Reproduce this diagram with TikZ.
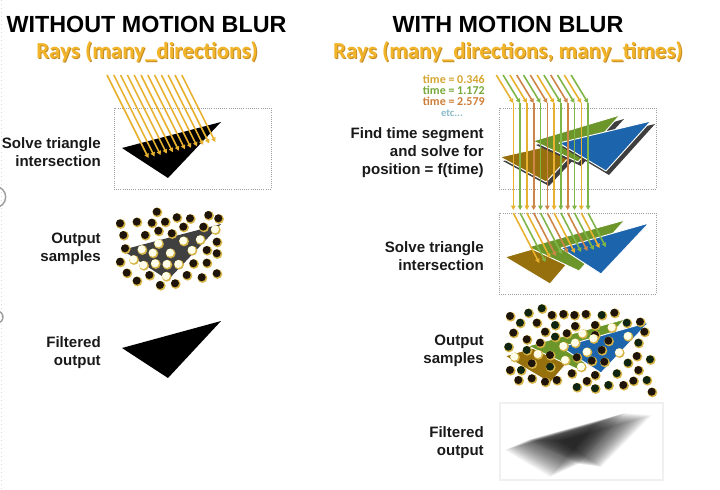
\documentclass[tikz,border=0pt]{standalone}
\usepackage{fontspec}
\setmainfont{Liberation Sans}
\newfontfamily\calfont{Carlito}
\usetikzlibrary{arrows.meta,calc}
\definecolor{rayGold}{RGB}{232,178,48}
\definecolor{rayGreen}{RGB}{128,182,72}
\definecolor{rayOrange}{RGB}{206,134,72}
\definecolor{subOrange}{RGB}{242,180,40}
\definecolor{subShadow}{RGB}{196,140,40}
\definecolor{triBrown}{RGB}{150,112,12}
\definecolor{triGreen}{RGB}{108,150,42}
\definecolor{triBlue}{RGB}{28,100,172}
\definecolor{shadowGray}{RGB}{62,62,62}
\definecolor{darkTri}{RGB}{64,64,64}
\definecolor{ringGold}{RGB}{214,180,70}
\definecolor{dotBlack}{RGB}{30,20,10}
\definecolor{dotGreen}{RGB}{16,36,18}
\definecolor{etcBlue}{RGB}{140,186,200}
\definecolor{tGold}{RGB}{214,165,50}
\definecolor{tGreen}{RGB}{118,168,58}
\definecolor{tOrange}{RGB}{205,125,55}
\newcommand\mbDot[3][dotBlack]{\fill[ringGold] (#2+0.7,#3+0.7) circle (3.7pt); \fill[#1] (#2,#3) circle (3.0pt);}
\newcommand\mbWhite[2]{\fill[ringGold] (#1+0.7,#2+0.7) circle (3.7pt); \fill[white!92!yellow] (#1,#2) circle (3.0pt);}
\tikzset{
  ray/.style={line width=1.2pt,-{Triangle[length=3.2pt,width=3.4pt]}},
  dotbox/.style={draw=gray!75,line width=0.6pt,dash pattern=on 0.7pt off 0.9pt},
  title/.style={font=\bfseries\fontsize{17.5}{20}\selectfont,text=black},
  sub/.style={font=\calfont\bfseries\fontsize{17.2}{20}\selectfont},
  lab/.style={font=\bfseries\fontsize{11.3}{13.8}\selectfont,align=right,anchor=east,text=black!90,inner sep=0pt},
  tlab/.style={font=\calfont\bfseries\fontsize{9}{10}\selectfont,anchor=east,inner sep=0pt},
  tri/.style={draw=white,line width=0.7pt,line join=round},
}
\begin{document}
\begin{tikzpicture}[x=0.75pt,y=-0.75pt]
\useasboundingbox (0,0) rectangle (720,489);
% left edge artifacts
\draw[gray!30,line width=0.8pt,dash pattern=on 1pt off 2pt] (1.5,0) -- (1.5,489);
\draw[gray!75,line width=1.1pt] (-5,197) circle (8pt);
\draw[gray!75,line width=1.1pt] (-3,317) circle (4.5pt);

% titles
\node[title] (t1) at (146.5,24) {WITHOUT MOTION BLUR};
\node[title] (t2) at (508,24) {WITH MOTION BLUR};
\node[sub,text=subShadow] (s1sh) at (148,53) {Rays (many\_directions)};
\node[sub,text=subOrange] (s1) at (147,52) {Rays (many\_directions)};
\node[sub,text=subShadow] (s2sh) at (509,53) {Rays (many\_directions, many\_times)};
\node[sub,text=subOrange] (s2) at (508,52) {Rays (many\_directions, many\_times)};

% ---------------- left column ----------------
\node[lab] (l1) at (101,152) {Solve triangle\\intersection};
\node[lab] (l2) at (101,249) {Output\\samples};
\node[lab] (l3) at (101,352.5) {Filtered\\output};

\draw[dotbox] (114,108) rectangle (271,189);
\fill[black] (122,148) -- (221,122) -- (168,178) -- cycle;
\foreach \i in {0,...,11}{
  \pgfmathsetmacro\sx{107+6.8*\i}
  \pgfmathsetmacro\ey{158-16*\i/11}
  \pgfmathsetmacro\ex{\sx+0.5*(\ey-75)}
  \draw[ray,rayGold] (\sx,75) -- (\ex,\ey);
}

\fill[darkTri] (122,250) -- (221,224) -- (168,280) -- cycle;
\foreach \x/\y in {156.7/211.7,120/223.3,136.7/221.7,151.7/222.7,165/221.7,176.7/217.3,190/218.3,208.3/215,218.3/218.3,
  123.3/235,145/235,158.3/230.7,171.7/233.3,183.3/226.7,203.3/226.7,125/248.3,216.7/241.7,206.7/250,120/261.7,
  216.7/253.3,193.3/263.3,206.7/262.7,126.7/272.7,136.7/280.7,149.3/275,186.7/275,201.7/277.3,216.7/273.3,160/285,175/283.3}
  {\mbDot{\x}{\y}}
\foreach \x/\y in {215/229.3,141.7/249.3,158.3/243.3,183.3/240.7,200/239.3,133.3/259.3,152.7/252.7,170/252.7,191.7/250,
  143.3/265,155/263.3,166.7/264,178.3/264,166/276}
  {\mbWhite{\x}{\y}}

\fill[black] (122,348) -- (221,321) -- (168,378) -- cycle;

% ---------------- right column ----------------
\node[tlab,text=tGold] (tm1) at (485,79) {time = 0.346};
\node[tlab,text=tGreen] (tm2) at (485,90) {time = 1.172};
\node[tlab,text=tOrange] (tm3) at (485,101) {time = 2.579};
\node[font=\calfont\bfseries\fontsize{8}{9}\selectfont,text=etcBlue,inner sep=0pt] (etc) at (452,113) {etc...};

\node[lab] (r1) at (484,152.7) {Find time segment\\and solve for\\position = f(time)};
\node[lab] (r2) at (484,256) {Solve triangle\\intersection};
\node[lab] (r3) at (484,351) {Output\\samples};
\node[lab] (r4) at (484,442.5) {Filtered\\output};

% box 1 : perspective triangles
\draw[dotbox] (499,108) rectangle (656,189);
\fill[shadowGray] (503,161) -- (591,141) -- (549,186) -- cycle;
\fill[triBrown,tri] (500,157) -- (588,137) -- (546,182) -- cycle;
\fill[shadowGray] (536,145) -- (624,119) -- (581,166) -- cycle;
\fill[triGreen,tri] (533,141) -- (620,115) -- (578,162) -- cycle;
\fill[shadowGray] (562,147) -- (655,124) -- (609,175) -- cycle;
\fill[triBlue,tri] (559,143) -- (651,121) -- (606,171) -- cycle;

\foreach \i/\c in {0/rayGold,1/rayGreen,2/rayGold,3/rayOrange,4/rayGreen,5/rayOrange,6/rayGold,7/rayGreen,8/rayOrange,9/rayGreen,10/rayGold,11/rayGreen}{
  \pgfmathsetmacro\sx{513.3+6.8*\i}
  \draw[ray,\c] (\sx-17,75) -- (\sx,103);
  \draw[ray,\c] (\sx,103) -- (\sx,210);
}

% box 2 : triangles at three times
\draw[dotbox] (499,213) rectangle (656,294);
\fill[triBrown,tri] (505,257) -- (595,231) -- (550,284) -- cycle;
\fill[triGreen,tri] (528,247) -- (625,220) -- (579,271) -- cycle;
\fill[triBlue,tri] (561,248) -- (649,223) -- (601,274) -- cycle;
\foreach \i/\c/\ey in {0/rayGold/263,1/rayGreen/262,2/rayGold/258,3/rayOrange/256,4/rayGreen/254,5/rayOrange/253,6/rayGold/253,7/rayGreen/252,8/rayOrange/251,9/rayGreen/250,10/rayGold/248,11/rayGreen/247}{
  \pgfmathsetmacro\sx{513.3+6.8*\i}
  \pgfmathsetmacro\ex{\sx+0.52*(\ey-213)}
  \draw[ray,\c] (\sx,213) -- (\ex,\ey);
}

% output samples
\fill[triBrown,tri] (505,356) -- (595,330) -- (550,383) -- cycle;
\fill[triGreen,tri] (528,346) -- (625,319) -- (579,370) -- cycle;
\fill[triBlue,tri] (561,347) -- (649,322) -- (601,373) -- cycle;
\foreach \x/\y/\c in {510/316/dotBlack,528.3/312.7/dotGreen,541.7/308.3/dotGreen,551.7/315/dotBlack,563.3/314/dotBlack,574.3/315/dotBlack,
  585.7/314/dotBlack,601.7/315/dotGreen,614.3/312.7/dotBlack,520/322.7/dotGreen,536.7/322.7/dotBlack,555/325/dotGreen,575/326/dotBlack,
  595/325/dotBlack,626.7/322.7/dotGreen,640/321.7/dotBlack,513.3/332.7/dotBlack,526.7/339.3/dotBlack,545/331.7/dotBlack,555/336.7/dotGreen,
  566.7/333.3/dotBlack,595/335/dotBlack,644.3/331.7/dotBlack,508.3/346.7/dotGreen,526.7/350/dotGreen,540/342.7/dotBlack,608.3/340.7/dotBlack,
  638.3/342.7/dotGreen,550/355/dotBlack,576.7/357.3/dotBlack,601.7/350/dotBlack,636.7/356/dotBlack,531.7/363.3/dotBlack,550/366.7/dotGreen,
  591.7/360.7/dotBlack,604.3/361.7/dotBlack,627.7/362.7/dotGreen,650/359.3/dotGreen,510/370/dotBlack,521/370/dotGreen,571.7/373.3/dotBlack,
  595/375/dotBlack,616.7/373.3/dotGreen,638.3/370/dotBlack,518.3/380/dotBlack,531.7/378.3/dotBlack,545/381.7/dotBlack,556.7/380/dotBlack,
  576.7/387/dotGreen,586.7/381/dotBlack,595/388.3/dotGreen,608.3/385/dotGreen,623.3/385/dotBlack,633.3/380.7/dotBlack,646.7/380/dotGreen,651.7/391.7/dotBlack}
  {\mbDot[\c]{\x}{\y}}
\foreach \x/\y in {582.3/333.3,611.7/327.3,563.3/346,575/342.7,593.3/338.3,627.7/336,514.3/356.7,537.7/354,586.7/351.7,619/352.3,565/360,581/366.7}
  {\mbWhite{\x}{\y}}

% filtered output (motion blurred)
\draw[gray!12,line width=0.8pt] (500,403) rectangle (663,480);
\coordinate (bA) at (505,450); \coordinate (bB) at (595,424); \coordinate (bC) at (550,477);
\coordinate (gA) at (528,440); \coordinate (gB) at (625,413); \coordinate (gC) at (579,464);
\coordinate (uA) at (561,441); \coordinate (uB) at (652,415); \coordinate (uC) at (601,467);
\foreach \k in {0,...,24}{
  \pgfmathsetmacro\tt{\k/24}
  \fill[black,opacity=0.035] ($(bA)!\tt!(gA)$) -- ($(bB)!\tt!(gB)$) -- ($(bC)!\tt!(gC)$) -- cycle;
  \fill[black,opacity=0.035] ($(gA)!\tt!(uA)$) -- ($(gB)!\tt!(uB)$) -- ($(gC)!\tt!(uC)$) -- cycle;
}
\end{tikzpicture}
\end{document}
